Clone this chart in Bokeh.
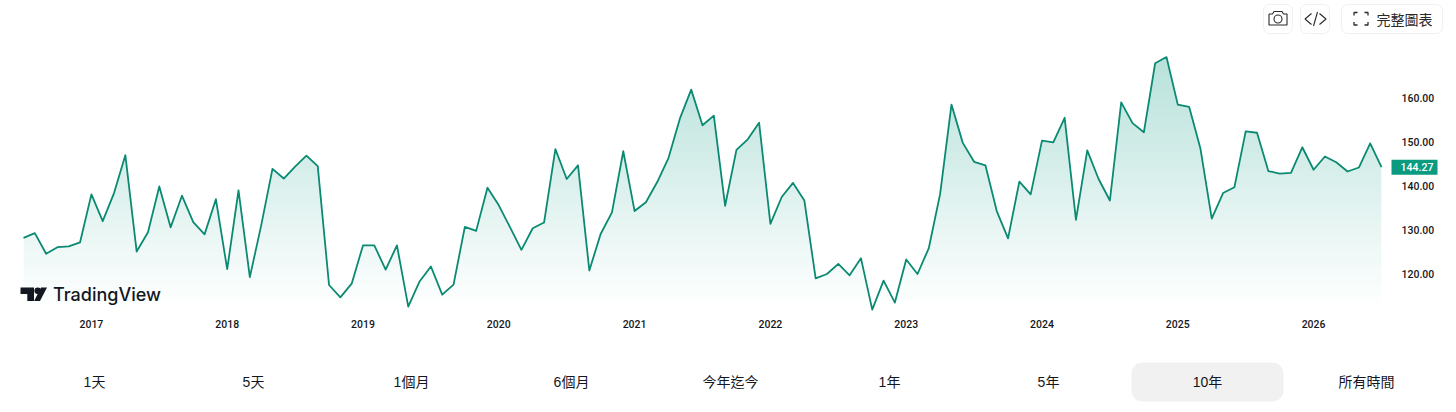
from bokeh.plotting import figure
from bokeh.layouts import column
from bokeh.models import Range1d, FixedTicker, BoxAnnotation, NumeralTickFormatter
from bokeh.core.properties import value
from bokeh.embed import file_html
from bokeh.resources import INLINE
import numpy as np

# ---- data (monthly closes, Jul 2016 .. Jul 2026)
prices = [
    128.2, 129.3, 124.6, 126.1, 126.3, 127.2, 138.1, 132.0, 138.4, 147.0,
    125.1, 129.5, 139.9, 130.6, 137.8, 131.8, 129.0, 137.0, 121.1, 139.0,
    119.3, 131.0, 143.9, 141.7, 144.4, 146.9, 144.5, 117.5, 114.7, 117.8,
    126.5, 126.5, 121.0, 126.5, 112.6, 118.3, 121.7, 115.3, 117.6, 130.7,
    129.8, 139.6, 135.6, 130.6, 125.5, 130.4, 131.7, 148.4, 141.6, 144.7,
    120.8, 129.1, 134.0, 147.9, 134.3, 136.3, 140.9, 146.4, 155.3, 161.9,
    153.8, 156.0, 135.5, 148.2, 150.6, 154.4, 131.4, 137.5, 140.7, 136.7,
    119.0, 120.0, 122.3, 119.7, 123.6, 111.9, 118.5, 113.5, 123.3, 120.0,
    125.9, 138.2, 158.5, 149.8, 145.5, 144.7, 134.3, 128.1, 141.0, 138.1,
    150.3, 149.9, 155.5, 132.3, 148.1, 141.6, 136.7, 159.0, 154.3, 152.2,
    167.9, 169.3, 158.5, 158.0, 148.5, 132.6, 138.4, 139.7, 152.4, 152.1,
    143.4, 142.8, 143.0, 148.8, 143.7, 146.7, 145.4, 143.3, 144.2, 149.7,
    144.27,
]
year_labels = ["2017", "2018", "2019", "2020", "2021", "2022", "2023", "2024", "2025", "2026"]
year_positions = [6, 18, 30, 42, 54, 66, 78, 90, 102, 114]
price_ticks = [120, 130, 140, 150, 160]
range_labels = ["1天", "5天", "1個月", "6個月", "今年迄今", "1年", "5年", "10年", "所有時間"]
range_centers = [94, 253, 411, 571, 730, 889, 1048, 1207, 1366]
active_range = "10年"
last_label = "144.27"

LINE = "#0b8a72"
TEAL = (8, 153, 129)
CJK = "Noto Sans CJK TC"
LATIN = "Liberation Sans, Noto Sans CJK TC"
TICK_FONT = "Noto Sans Medium, Roboto Medium, Noto Sans"
LOGO_FONT = "Inter Medium, Inter"


def pixel_fig(h, y_top):
    """A strip of the page whose data coordinates are page pixels."""
    f = figure(width=1456, height=h, output_backend="svg", toolbar_location=None,
               x_range=Range1d(0, 1456), y_range=Range1d(y_top + h, y_top),
               min_border=0, outline_line_color=None, x_axis_location=None,
               y_axis_location=None)
    f.grid.visible = False
    return f


def box(left, right, t, b, fill, line, radius):
    return BoxAnnotation(left=left, right=right, top=t, bottom=b, fill_color=fill, fill_alpha=1,
                         line_color=line, line_alpha=1, line_width=1, border_radius=radius,
                         level="underlay")


# ---- top buttons
top = pixel_fig(38, 0)
for l, r in [(1263, 1292), (1300, 1329), (1341, 1442)]:
    top.add_layout(box(l, r, 4, 33, "white", "#f0f0f0", 6))
INK = "#2a2a2a"
# camera
top.line([1268.5, 1272, 1273.5, 1281.5, 1283, 1286.5, 1286.5, 1268.5, 1268.5],
         [13.5, 13.5, 11, 11, 13.5, 13.5, 24.5, 24.5, 13.5], line_color=INK, line_width=1.1)
top.scatter([1277.5], [18.5], size=8, marker="circle", fill_color=None, line_color=INK, line_width=1.1)
# code
top.multi_line([[1311, 1304.5, 1311], [1319, 1325.5, 1319], [1317, 1313]],
               [[13, 18.5, 24], [13, 18.5, 24], [11.5, 25.5]], line_color=INK, line_width=1.1)
# full-screen corners
top.multi_line([[1357, 1353.5, 1353.5], [1364, 1367.5, 1367.5], [1353.5, 1353.5, 1357], [1367.5, 1367.5, 1364]],
               [[12, 12, 15], [12, 12, 15], [21.5, 24.5, 24.5], [21.5, 24.5, 24.5]],
               line_color=INK, line_width=1.3)
top.text([1404], [18.5], text=["完整圖表"], text_font=value(CJK), text_font_size="14px",
         text_color=INK, text_align="center", text_baseline="middle")

# ---- chart
PX = 1358 / (len(prices) - 1)
PY = 4.4
X0, Y0 = 23, 97.5
FRAME_T, FRAME_B, FRAME_R = 38, 316, 1456


def dx(px):
    return (px - X0) / PX


def dy(py):
    return 160 - (py - Y0) / PY


idx = np.arange(len(prices))
chart = figure(width=1456, height=307, frame_width=FRAME_R, frame_height=FRAME_B - FRAME_T,
               output_backend="svg", toolbar_location=None,
               x_range=Range1d(dx(0), dx(FRAME_R)), y_range=Range1d(dy(FRAME_B), dy(FRAME_T)),
               min_border=0, min_border_bottom=29, outline_line_color=None, y_axis_location="right")
chart.grid.visible = False

# gradient under the line: image, with everything above the line masked in white
rows = 256
grad = np.zeros((rows, 1, 4), dtype=np.uint8)
grad[:, 0, 0], grad[:, 0, 1], grad[:, 0, 2] = TEAL
grad[:, 0, 3] = (np.linspace(0, 1, rows) * 0.30 * 255).astype(np.uint8)
packed = grad.view(np.uint32).reshape(rows, 1)
g_bot, g_top = dy(310), dy(50)
last = len(prices) - 1
chart.image_rgba(image=[packed], x=0, y=g_bot, dw=last, dh=g_top - g_bot)
mask_x = [-1, 0] + list(idx) + [last, last + 1]
mask_y = [g_bot - 1, g_bot - 1] + prices + [g_bot - 1, g_bot - 1]
chart.varea(mask_x, y1=mask_y, y2=[g_top + 1] * len(mask_x), fill_color="white")
chart.line(idx, prices, line_color=LINE, line_width=1.8, line_join="round")

ax, ay = chart.xaxis[0], chart.yaxis[0]
ax.ticker = FixedTicker(ticks=year_positions)
ax.major_label_overrides = dict(zip(year_positions, year_labels))
ay.ticker = FixedTicker(ticks=price_ticks)
ay.formatter = NumeralTickFormatter(format="0.00")
for a in (ax, ay):
    a.axis_line_color = None
    a.major_tick_line_color = None
    a.minor_tick_line_color = None
    a.major_tick_in = 0
    a.major_tick_out = 0
    a.major_label_text_font = TICK_FONT
    a.major_label_text_font_style = "normal"
    a.major_label_text_font_size = "10.5px"
    a.major_label_text_color = "#131722"
ax.major_label_standoff = 3
ay.major_label_standoff = 1401 - 1456

# price tag
chart.quad(left=[dx(1391)], right=[dx(1437)], top=[prices[-1] + 7.5 / PY], bottom=[prices[-1] - 7.5 / PY],
           fill_color="#0a9a80", line_color=None)
chart.text([dx(1416.5)], [prices[-1]], text=[last_label], text_align="center", text_baseline="middle",
           text_color="white", text_font=value(TICK_FONT), text_font_size="10.5px")

# TradingView logo
LK = "#131722"
chart.patch([dx(v) for v in (20, 33.5, 33.5, 26.8, 26.8, 20)],
            [dy(v) for v in (287, 287, 300.5, 300.5, 293.6, 293.6)], color=LK, line_width=0)
chart.scatter([dx(37.2)], [dy(290.3)], size=6.6, marker="circle", color=LK, line_width=0)
chart.patch([dx(v) for v in (39.5, 46.5, 40.5, 33.6)],
            [dy(v) for v in (300.5, 287, 287, 300.5)], color=LK, line_width=0)
chart.text([dx(52.5)], [dy(294)], text=["TradingView"], text_font=value(LOGO_FONT),
           text_font_size="18px", text_color=LK, text_align="left", text_baseline="middle")

# ---- range buttons
bottom = pixel_fig(67, 345)
i = range_labels.index(active_range)
bottom.add_layout(box(range_centers[i] - 76, range_centers[i] + 76, 362, 401, "#f1f1f1", None, 11))
bottom.text(range_centers, [381.5] * len(range_centers), text=range_labels,
            text_font=value(LATIN), text_font_size="14px", text_color="#131722",
            text_align="center", text_baseline="middle")

page = column(top, chart, bottom, spacing=0)
open("out.html", "w").write(file_html(page, INLINE))
